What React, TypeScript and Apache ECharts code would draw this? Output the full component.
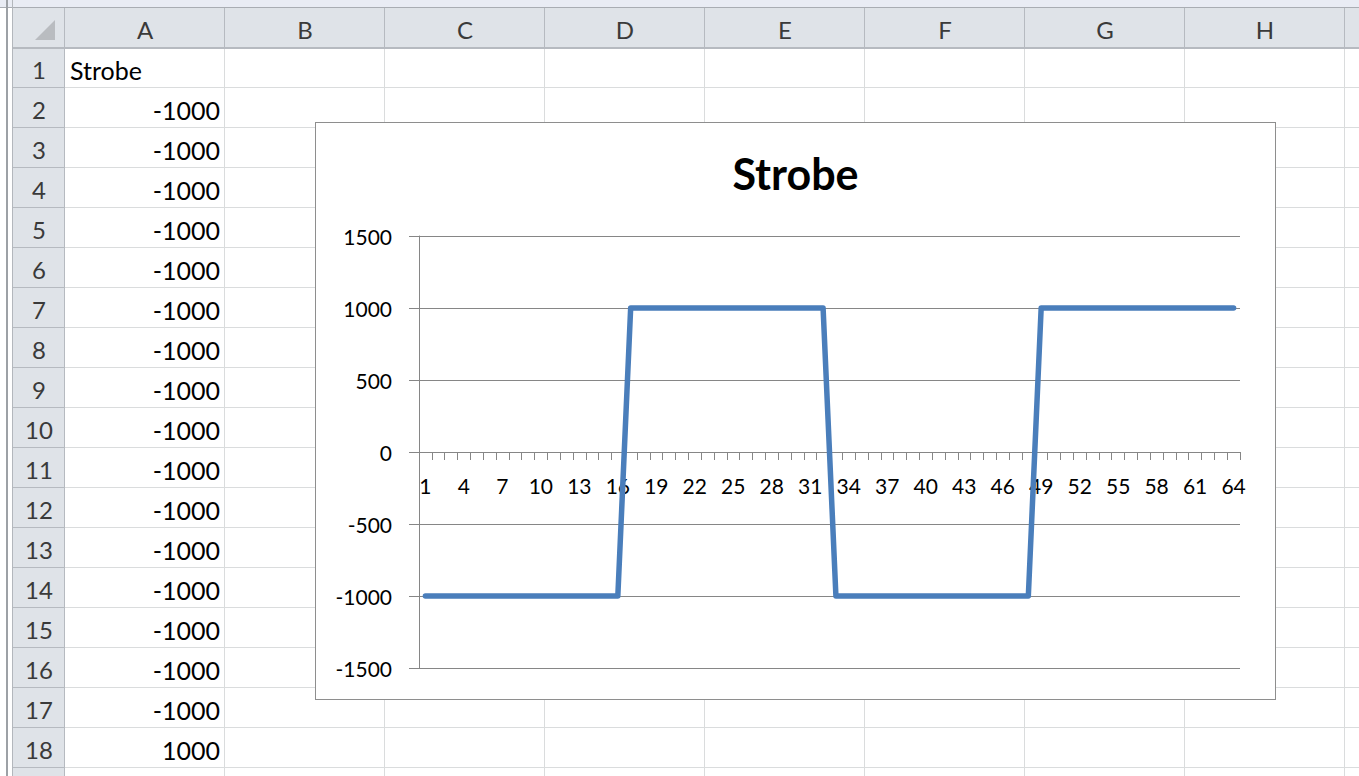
import React, { useEffect, useRef } from "react";
import * as echarts from "echarts";

// ---- Data ----
const chartTitle = "Strobe";
const categories = [
  "1", "2", "3", "4", "5", "6", "7", "8", "9", "10", "11", "12", "13", "14", "15", "16",
  "17", "18", "19", "20", "21", "22", "23", "24", "25", "26", "27", "28", "29", "30", "31", "32",
  "33", "34", "35", "36", "37", "38", "39", "40", "41", "42", "43", "44", "45", "46", "47", "48",
  "49", "50", "51", "52", "53", "54", "55", "56", "57", "58", "59", "60", "61", "62", "63", "64",
];
const strobeValues = [
  -1000, -1000, -1000, -1000, -1000, -1000, -1000, -1000, -1000, -1000, -1000, -1000, -1000, -1000, -1000, -1000,
  1000, 1000, 1000, 1000, 1000, 1000, 1000, 1000, 1000, 1000, 1000, 1000, 1000, 1000, 1000, 1000,
  -1000, -1000, -1000, -1000, -1000, -1000, -1000, -1000, -1000, -1000, -1000, -1000, -1000, -1000, -1000, -1000,
  1000, 1000, 1000, 1000, 1000, 1000, 1000, 1000, 1000, 1000, 1000, 1000, 1000, 1000, 1000, 1000,
];
const yMin = -1500;
const yMax = 1500;
const yInterval = 500;

const columnLetters = ["A", "B", "C", "D", "E", "F", "G", "H"];
const visibleRows = 19;
const numberedRows = 18;

// ---- Layout constants ----
const FONT = "Lato, 'Open Sans', sans-serif";
const HEADER_TOP = 8;
const HEADER_H = 40;
const ROW_H = 40;
const ROWHDR_LEFT = 13;
const COL0 = 65;
const COL_W = 160;
const HDR_BG = "#dfe3e8";
const HDR_LINE = "#b6bac0";
const GRID_LINE = "#dadcdd";

const GRID_TOP = 113;
const GRID_BOTTOM = 31;
const CHART_W = 959;
const CHART_H = 576;

function Sheet() {
  const els: React.ReactNode[] = [];
  els.push(<div key="topstrip" style={{ position: "absolute", left: 0, top: 0, width: 1359, height: HEADER_TOP, background: "#e9ecf4" }} />);
  els.push(<div key="topline" style={{ position: "absolute", left: 0, top: HEADER_TOP - 1, width: 1359, height: 1, background: "#a9adb3" }} />);
  els.push(<div key="leftline1" style={{ position: "absolute", left: 6, top: 0, width: 2, height: 776, background: "#9da1a6" }} />);
  els.push(<div key="leftline2" style={{ position: "absolute", left: 12, top: 0, width: 1, height: 776, background: "#b3b7bc" }} />);
  els.push(<div key="colhdr" style={{ position: "absolute", left: ROWHDR_LEFT, top: HEADER_TOP, width: 1359 - ROWHDR_LEFT, height: HEADER_H, background: HDR_BG }} />);
  els.push(<div key="rowhdr" style={{ position: "absolute", left: ROWHDR_LEFT, top: HEADER_TOP + HEADER_H, width: COL0 - ROWHDR_LEFT, height: 776, background: HDR_BG }} />);
  for (let i = 0; i <= columnLetters.length; i++) {
    const x = COL0 + COL_W * (i + 1) - 1;
    els.push(<div key={"vg" + i} style={{ position: "absolute", left: x, top: HEADER_TOP + HEADER_H, width: 1, height: 776, background: GRID_LINE }} />);
  }
  for (let r = 1; r <= visibleRows; r++) {
    const y = HEADER_TOP + HEADER_H + ROW_H * r - 1;
    els.push(<div key={"hg" + r} style={{ position: "absolute", left: COL0, top: y, width: 1359 - COL0, height: 1, background: GRID_LINE }} />);
    els.push(<div key={"rh" + r} style={{ position: "absolute", left: ROWHDR_LEFT, top: y, width: COL0 - ROWHDR_LEFT, height: 1, background: HDR_LINE }} />);
  }
  els.push(<div key="corner-r" style={{ position: "absolute", left: COL0 - 1, top: HEADER_TOP, width: 1, height: 776, background: HDR_LINE }} />);
  for (let i = 0; i <= columnLetters.length; i++) {
    const x = COL0 + COL_W * (i + 1) - 1;
    els.push(<div key={"hs" + i} style={{ position: "absolute", left: x, top: HEADER_TOP, width: 1, height: HEADER_H, background: HDR_LINE }} />);
  }
  els.push(<div key="hdrbottom" style={{ position: "absolute", left: ROWHDR_LEFT, top: HEADER_TOP + HEADER_H - 1, width: 1359 - ROWHDR_LEFT, height: 2, background: HDR_LINE }} />);
  els.push(
    <svg key="tri" width={24} height={24} style={{ position: "absolute", left: 34, top: 19 }}>
      <polygon points="1,21 21,1 21,21" fill="#b9bcc0" />
    </svg>
  );
  columnLetters.forEach((c, i) => {
    els.push(
      <div key={"cl" + c} style={{ position: "absolute", left: COL0 + COL_W * i, top: HEADER_TOP + 3, width: COL_W, height: HEADER_H - 2, lineHeight: HEADER_H - 2 + "px", textAlign: "center", fontFamily: FONT, fontSize: 24, color: "#3a3a3a" }}>{c}</div>
    );
  });
  for (let r = 1; r <= numberedRows; r++) {
    const top = HEADER_TOP + HEADER_H + ROW_H * (r - 1);
    els.push(
      <div key={"rn" + r} style={{ position: "absolute", left: ROWHDR_LEFT, top: top + 4, width: COL0 - ROWHDR_LEFT, height: ROW_H - 4, lineHeight: ROW_H - 4 + "px", textAlign: "center", fontFamily: FONT, fontSize: 24, color: "#3a3a3a" }}>{r}</div>
    );
  }
  els.push(
    <div key="a1" style={{ position: "absolute", left: COL0 + 5, top: HEADER_TOP + HEADER_H + 4, height: ROW_H - 4, lineHeight: ROW_H - 4 + "px", fontFamily: FONT, fontSize: 25, color: "#000" }}>{chartTitle}</div>
  );
  for (let r = 2; r <= numberedRows; r++) {
    const top = HEADER_TOP + HEADER_H + ROW_H * (r - 1);
    els.push(
      <div key={"a" + r} style={{ position: "absolute", left: COL0, top: top + 4, width: COL_W - 5, height: ROW_H - 4, lineHeight: ROW_H - 4 + "px", textAlign: "right", fontFamily: FONT, fontSize: 25, color: "#000" }}>{String(strobeValues[r - 2])}</div>
    );
  }
  return <>{els}</>;
}

function StrobeChart() {
  const ref = useRef<HTMLDivElement>(null);
  useEffect(() => {
    if (!ref.current) return;
    const chart = echarts.init(ref.current, undefined, { renderer: "svg" });
    const gridH = CHART_H - GRID_TOP - GRID_BOTTOM;
    // place the category axis at value 0 (bottom axis moved up by the 0 position)
    const zeroOffset = -Math.round((gridH * (0 - yMin)) / (yMax - yMin));
    chart.setOption({
      animation: false,
      backgroundColor: "#ffffff",
      title: {
        text: chartTitle,
        left: "center",
        top: 24,
        textStyle: { fontFamily: FONT, fontWeight: "bold", fontSize: 43, color: "#000" },
      },
      grid: { left: 103, right: 35, top: GRID_TOP, bottom: GRID_BOTTOM, containLabel: false, outerBoundsMode: "none" },
      xAxis: {
        type: "category",
        data: categories,
        boundaryGap: true,
        position: "bottom",
        offset: zeroOffset,
        axisLine: { show: true, onZero: false, lineStyle: { color: "#868686", width: 1 } },
        axisTick: { show: true, interval: 0, length: 8, inside: false, lineStyle: { color: "#868686", width: 1 } },
        axisLabel: { interval: 2, margin: 23, color: "#000", fontFamily: FONT, fontSize: 21 },
        splitLine: { show: false },
      },
      yAxis: {
        type: "value",
        min: yMin,
        max: yMax,
        interval: yInterval,
        axisLine: { show: true, onZero: false, lineStyle: { color: "#868686", width: 1 } },
        axisTick: { show: true, length: 10, lineStyle: { color: "#868686", width: 1 } },
        axisLabel: { margin: 27, color: "#000", fontFamily: FONT, fontSize: 21, formatter: (v: number) => String(v) },
        splitLine: { show: true, lineStyle: { color: "#868686", width: 1 } },
      },
      series: [
        {
          type: "line",
          name: chartTitle,
          data: strobeValues,
          symbol: "none",
          lineStyle: { color: "#4a7ebb", width: 5.5, cap: "round", join: "round" },
        },
      ],
    });
    return () => chart.dispose();
  }, []);
  return <div ref={ref} style={{ width: CHART_W, height: CHART_H }} />;
}

export default function App() {
  return (
    <div style={{ position: "absolute", left: 0, top: 0, width: 1359, height: 776, overflow: "hidden", background: "#fff" }}>
      <Sheet />
      <div style={{ position: "absolute", left: 315, top: 122, width: CHART_W + 2, height: CHART_H + 2, boxSizing: "border-box", border: "1px solid #8e8e8e", background: "#fff" }}>
        <StrobeChart />
      </div>
    </div>
  );
}
